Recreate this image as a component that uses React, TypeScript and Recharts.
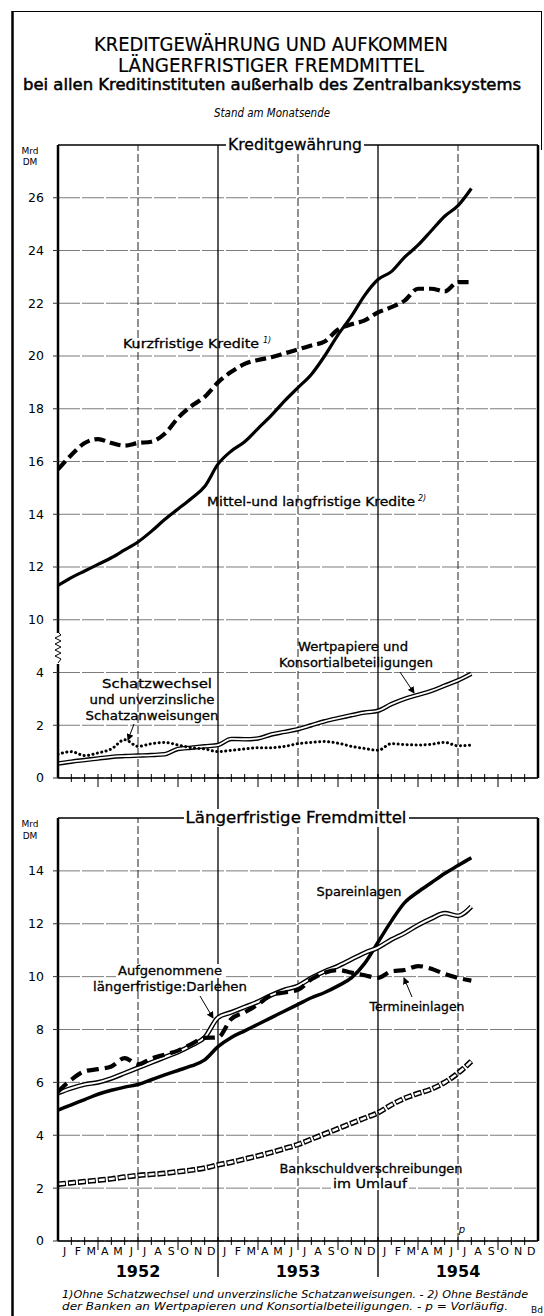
import React from "react";
import { LineChart, Line, XAxis, YAxis, CartesianGrid, ReferenceLine } from "recharts";

// month-end values, Dec 1951 .. Jul 1954 (index 0 = end of Dec 1951)
const MONTHS = ["J", "F", "M", "A", "M", "J", "J", "A", "S", "O", "N", "D"];
const YEARS = ["1952", "1953", "1954"];

// Kreditgewährung (Mrd DM)
const KURZ = [15.7, 16.25, 16.7, 16.85, 16.7, 16.6, 16.7, 16.75, 17.05, 17.65, 18.1, 18.45, 19.0, 19.4, 19.7, 19.85, 19.95, 20.1, 20.25, 20.4, 20.55, 21.0, 21.2, 21.35, 21.65, 21.85, 22.1, 22.55, 22.55, 22.45, 22.8, 22.8];
const MITTEL = [11.3, 11.6, 11.85, 12.1, 12.35, 12.65, 12.95, 13.35, 13.8, 14.2, 14.6, 15.05, 15.9, 16.4, 16.75, 17.25, 17.75, 18.3, 18.8, 19.3, 20.0, 20.8, 21.5, 22.3, 22.9, 23.2, 23.75, 24.2, 24.75, 25.3, 25.7, 26.35];
const SCHATZ = [0.9, 1.0, 0.85, 0.95, 1.1, 1.45, 1.2, 1.3, 1.35, 1.25, 1.15, 1.1, 1.0, 1.05, 1.1, 1.15, 1.15, 1.2, 1.3, 1.35, 1.38, 1.32, 1.2, 1.12, 1.05, 1.3, 1.27, 1.25, 1.28, 1.35, 1.22, 1.25];
const WERT = [0.55, 0.62, 0.68, 0.74, 0.8, 0.83, 0.85, 0.87, 0.9, 1.1, 1.15, 1.2, 1.25, 1.48, 1.47, 1.5, 1.65, 1.75, 1.85, 2.0, 2.15, 2.27, 2.38, 2.48, 2.55, 2.8, 3.0, 3.15, 3.3, 3.5, 3.7, 3.95];

// Längerfristige Fremdmittel (Mrd DM)
const SPAR = [4.95, 5.15, 5.35, 5.55, 5.7, 5.82, 5.92, 6.1, 6.28, 6.45, 6.62, 6.85, 7.35, 7.7, 7.95, 8.2, 8.45, 8.7, 8.95, 9.2, 9.4, 9.65, 9.95, 10.5, 11.3, 12.1, 12.8, 13.2, 13.55, 13.9, 14.2, 14.5];
const DARLEHEN = [5.6, 5.78, 5.92, 6.0, 6.15, 6.35, 6.55, 6.75, 6.95, 7.15, 7.4, 7.7, 8.45, 8.65, 8.85, 9.05, 9.3, 9.5, 9.65, 9.95, 10.2, 10.4, 10.65, 10.9, 11.1, 11.4, 11.65, 11.95, 12.2, 12.4, 12.3, 12.65];
const TERMIN = [5.65, 6.1, 6.42, 6.5, 6.6, 6.92, 6.68, 6.9, 7.05, 7.2, 7.45, 7.68, 7.7, 8.4, 8.65, 8.95, 9.3, 9.4, 9.5, 9.9, 10.15, 10.25, 10.15, 10.05, 9.95, 10.2, 10.25, 10.4, 10.3, 10.1, 9.95, 9.85];
const BANK = [2.15, 2.2, 2.25, 2.3, 2.35, 2.42, 2.48, 2.52, 2.56, 2.62, 2.68, 2.76, 2.88, 2.98, 3.1, 3.22, 3.35, 3.5, 3.65, 3.85, 4.05, 4.25, 4.45, 4.65, 4.85, 5.15, 5.4, 5.58, 5.75, 6.0, 6.35, 6.8];

const TOP_TICKS = [0, 2, 4, 6, 8, 10, 12, 14, 16, 18, 20, 22];
const BOTTOM_TICKS = [0, 2, 4, 6, 8, 10, 12, 14];

const FONT = "'DejaVu Sans', Roboto, sans-serif";

// the upper axis is broken between 4 and 10
const brk = (v: number) => (v >= 10 ? v - 4 : v);
const unbrk = (t: number) => (t > 4 ? t + 4 : t);

const topData = KURZ.map((v, i) => ({
  i,
  kurz: brk(v),
  mittel: brk(MITTEL[i]),
  schatz: SCHATZ[i],
  wert: WERT[i],
}));

const bottomData = SPAR.map((v, i) => ({
  i,
  spar: v,
  darlehen: DARLEHEN[i],
  termin: TERMIN[i],
  bank: BANK[i],
}));

const monthBounds = Array.from({ length: 35 }, (_, k) => k + 1);
const monthMids = Array.from({ length: 36 }, (_, k) => k + 0.5);

const monthMark = (down: number) => (props: any) => {
  const { x, y, payload } = props;
  const v = payload.value;
  const yr = v % 12 === 0;
  const len = yr ? down : v % 3 === 0 ? 9 : 4;
  return <line x1={x} x2={x} y1={y - 4} y2={y + len} stroke="#000" strokeWidth={yr ? 1.4 : 1} />;
};

const plain = { dot: false, activeDot: false, isAnimationActive: false, type: "monotone" as const };
const yTick = { fill: "#000", fontSize: 12.5, fontFamily: FONT };

function Frame({ top }: { top: number }) {
  return (
    <>
      <ReferenceLine x={6} stroke="#222" strokeDasharray="8 3" strokeWidth={1} />
      <ReferenceLine x={18} stroke="#222" strokeDasharray="8 3" strokeWidth={1} />
      <ReferenceLine x={30} stroke="#222" strokeDasharray="8 3" strokeWidth={1} />
      <ReferenceLine x={12} stroke="#000" strokeWidth={1.3} />
      <ReferenceLine x={24} stroke="#000" strokeWidth={1.3} />
      <ReferenceLine x={36} stroke="#000" strokeWidth={2.5} />
      <ReferenceLine y={top} stroke="#000" strokeWidth={1.5} />
    </>
  );
}

function TopChart() {
  return (
    <LineChart width={544} height={688} data={topData} margin={{ top: 15, right: 6, left: 8, bottom: 0 }}>
      <CartesianGrid vertical={false} horizontalValues={TOP_TICKS} stroke="#444" strokeWidth={0.7} strokeDasharray="22 2" />
      <XAxis dataKey="i" type="number" domain={[0, 36]} allowDataOverflow ticks={monthBounds} interval={0} height={40}
        tickSize={0} tickMargin={0} tick={monthMark(40)} axisLine={{ stroke: "#000", strokeWidth: 1.5 }} />
      <YAxis type="number" domain={[0, 24]} ticks={TOP_TICKS} interval={0} width={50} tickSize={5} tickMargin={9}
        tickFormatter={(t: number) => String(unbrk(t))} tick={yTick}
        axisLine={{ stroke: "#000", strokeWidth: 2.5 }} tickLine={{ stroke: "#333" }} />
      {Frame({ top: 24 })}
      <Line dataKey="wert" {...plain} stroke="#000" strokeWidth={4.5} />
      <Line dataKey="wert" {...plain} stroke="#fff" strokeWidth={1.8} />
      <Line dataKey="schatz" {...plain} stroke="#000" strokeWidth={3} strokeDasharray="0.1 4.4" strokeLinecap="round" />
      <Line dataKey="mittel" {...plain} stroke="#000" strokeWidth={3.2} />
      <Line dataKey="kurz" {...plain} stroke="#000" strokeWidth={4.2} strokeDasharray="11 5" />
    </LineChart>
  );
}

function BottomChart() {
  return (
    <LineChart width={544} height={490} data={bottomData} margin={{ top: 18, right: 6, left: 8, bottom: 4 }}>
      <CartesianGrid vertical={false} horizontalValues={BOTTOM_TICKS} stroke="#444" strokeWidth={0.7} strokeDasharray="22 2" />
      <XAxis dataKey="i" type="number" domain={[0, 36]} allowDataOverflow ticks={monthBounds} interval={0} height={1}
        tickSize={0} tickMargin={0} tick={monthMark(36)} axisLine={{ stroke: "#000", strokeWidth: 1.5 }} />
      <XAxis xAxisId="m" dataKey="i" type="number" domain={[0, 36]} allowDataOverflow ticks={monthMids} interval={0} height={20}
        tickSize={0} tickMargin={5} axisLine={false} tickLine={false}
        tickFormatter={(v: number) => MONTHS[Math.floor(v) % 12]}
        tick={{ fill: "#000", fontSize: 11, fontFamily: FONT }} />
      <XAxis xAxisId="y" dataKey="i" type="number" domain={[0, 36]} allowDataOverflow ticks={[6, 18, 30]} interval={0} height={24}
        tickSize={0} tickMargin={4} axisLine={false} tickLine={false}
        tickFormatter={(v: number) => YEARS[(v - 6) / 12]}
        tick={{ fill: "#000", fontSize: 16, fontWeight: "bold", fontFamily: FONT }} />
      <YAxis type="number" domain={[0, 16]} ticks={BOTTOM_TICKS} interval={0} width={50} tickSize={5} tickMargin={9}
        tick={yTick} axisLine={{ stroke: "#000", strokeWidth: 2.5 }} tickLine={{ stroke: "#333" }} />
      {Frame({ top: 16 })}
      <Line dataKey="bank" {...plain} stroke="#000" strokeWidth={5.5} strokeDasharray="8 2" />
      <Line dataKey="bank" {...plain} stroke="#fff" strokeWidth={2.4} strokeDasharray="6 4" strokeDashoffset={-1} />
      <Line dataKey="spar" {...plain} stroke="#000" strokeWidth={3.5} />
      <Line dataKey="darlehen" {...plain} stroke="#000" strokeWidth={4.8} />
      <Line dataKey="darlehen" {...plain} stroke="#fff" strokeWidth={2} />
      <Line dataKey="termin" {...plain} stroke="#000" strokeWidth={4.2} strokeDasharray="12 6" />
    </LineChart>
  );
}

function T({ x, y, len, size = 12.5, anchor = "middle", italic = false, heavy = 0.3, children }: any) {
  return (
    <text x={x} y={y} textAnchor={anchor} fontSize={size} fontFamily={FONT} fontStyle={italic ? "italic" : "normal"}
      fill="#000" stroke="#000" strokeWidth={heavy} textLength={len} lengthAdjust="spacingAndGlyphs">
      {children}
    </text>
  );
}

function Overlay() {
  return (
    <svg width={544} height={1316} style={{ position: "absolute", left: 0, top: 0, pointerEvents: "none" }}>
      <defs>
        <marker id="ah" markerWidth="7" markerHeight="7" refX="6" refY="3.5" orient="auto">
          <path d="M0,0 L7,3.5 L0,7 z" fill="#000" />
        </marker>
      </defs>
      {/* outer frame */}
      <line x1={12.5} y1={11} x2={12.5} y2={1316} stroke="#000" strokeWidth={2.5} />
      <line x1={12} y1={11.5} x2={542} y2={11.5} stroke="#000" strokeWidth={1} />
      <line x1={541.5} y1={11} x2={541.5} y2={150} stroke="#000" strokeWidth={1} />

      {/* titles */}
      <T x={271} y={51} len={354} size={19} heavy={0.2}>KREDITGEWÄHRUNG UND AUFKOMMEN</T>
      <T x={271} y={72} len={306} size={19} heavy={0.2}>LÄNGERFRISTIGER FREMDMITTEL</T>
      <T x={272} y={90} len={498} size={16} heavy={0.5}>bei allen Kreditinstituten außerhalb des Zentralbanksystems</T>
      <T x={272} y={117} len={116} size={12} italic heavy={0}>Stand am Monatsende</T>

      {/* panel titles */}
      <rect x={226} y={136} width={138} height={18} fill="#fff" />
      <T x={295} y={150} len={134} size={15}>Kreditgewährung</T>
      <rect x={184} y={809} width={225} height={18} fill="#fff" />
      <T x={296} y={823} len={221} size={15}>Längerfristige Fremdmittel</T>

      {/* units */}
      <T x={30} y={154} size={9} heavy={0}>Mrd</T>
      <T x={30} y={165} size={9} heavy={0}>DM</T>
      <T x={30} y={827} size={9} heavy={0}>Mrd</T>
      <T x={30} y={839} size={9} heavy={0}>DM</T>

      {/* axis break */}
      <rect x={53} y={633} width={10} height={31} fill="#fff" />
      <polyline points="58,632 61,635 55,638 61,641 55,644 61,647 55,650 61,653 55,656 61,659 58,663" fill="none" stroke="#000" strokeWidth={1} />

      {/* series labels, upper panel */}
      <T x={123} y={348} len={136} anchor="start">Kurzfristige Kredite</T>
      <T x={263} y={343} size={8} italic anchor="start" heavy={0}>1)</T>
      <T x={207} y={506} len={208} anchor="start">Mittel-und langfristige Kredite</T>
      <T x={418} y={501} size={8} italic anchor="start" heavy={0}>2)</T>
      <T x={353} y={651} len={110}>Wertpapiere und</T>
      <T x={356} y={667} len={154}>Konsortialbeteiligungen</T>
      <line x1={400} y1={672} x2={414} y2={693} stroke="#000" strokeWidth={1} markerEnd="url(#ah)" />
      <T x={157} y={688} len={110}>Schatzwechsel</T>
      <T x={152} y={704} len={125}>und unverzinsliche</T>
      <T x={152} y={720} len={133}>Schatzanweisungen</T>
      <line x1={134} y1={724} x2={128} y2={740} stroke="#000" strokeWidth={1} markerEnd="url(#ah)" />

      {/* series labels, lower panel */}
      <rect x={116} y={964} width={108} height={14} fill="#fff" />
      <T x={170} y={975} len={104}>Aufgenommene</T>
      <T x={170} y={991} len={154}>längerfristige:Darlehen</T>
      <line x1={200} y1={996} x2={213} y2={1018} stroke="#000" strokeWidth={1} markerEnd="url(#ah)" />
      <T x={359} y={896} len={85}>Spareinlagen</T>
      <T x={417} y={1011} len={95}>Termineinlagen</T>
      <line x1={412} y1={997} x2={404} y2={978} stroke="#000" strokeWidth={1} markerEnd="url(#ah)" />
      <T x={371} y={1173} len={183}>Bankschuldverschreibungen</T>
      <rect x={331} y={1178} width={78} height={12} fill="#fff" />
      <T x={370} y={1188} len={74}>im Umlauf</T>
      <T x={462} y={1233} size={10} italic heavy={0}>p</T>

      {/* footnotes */}
      <T x={62} y={1298} len={466} size={10} italic anchor="start" heavy={0}>1)Ohne Schatzwechsel und unverzinsliche Schatzanweisungen. - 2) Ohne Bestände</T>
      <T x={62} y={1310} len={446} size={10} italic anchor="start" heavy={0}>der Banken an Wertpapieren und Konsortialbeteiligungen. - p = Vorläufig.</T>
      <T x={531} y={1313} size={9} anchor="start" heavy={0}>Bd</T>
    </svg>
  );
}

export default function App() {
  return (
    <div style={{ position: "absolute", left: 0, top: 0, width: 544, height: 1316, background: "#fff", fontFamily: FONT, overflow: "hidden" }}>
      <div style={{ position: "absolute", left: 0, top: 130 }}>
        <TopChart />
      </div>
      <div style={{ position: "absolute", left: 0, top: 800 }}>
        <BottomChart />
      </div>
      <Overlay />
    </div>
  );
}
